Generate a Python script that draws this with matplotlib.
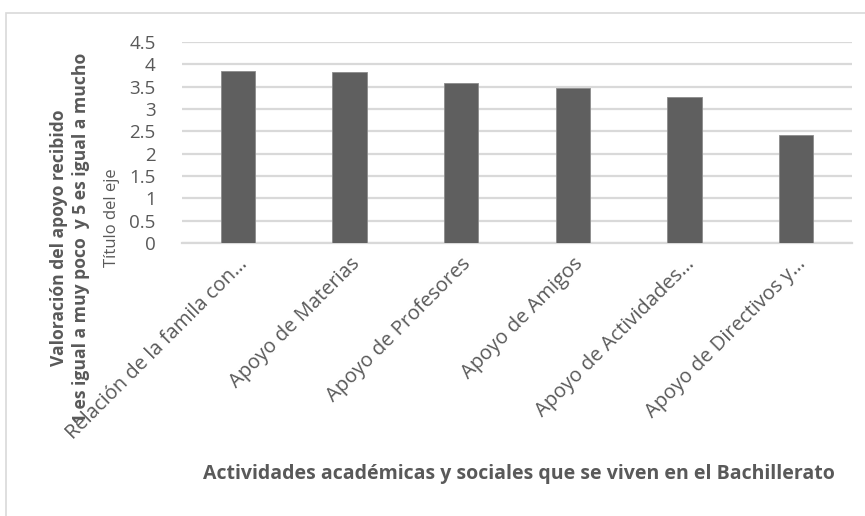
import matplotlib.pyplot as plt
from matplotlib.patches import Rectangle

categories = ['Relación de la famila con…', 'Apoyo de Materias', 'Apoyo de Profesores',
              'Apoyo de Amigos', 'Apoyo de Actividades…', 'Apoyo de Directivos y…']
values = [3.85, 3.83, 3.59, 3.48, 3.26, 2.41]
y_ticks = [0, 0.5, 1, 1.5, 2, 2.5, 3, 3.5, 4, 4.5]
y_tick_labels = ['0', '0.5', '1', '1.5', '2', '2.5', '3', '3.5', '4', '4.5']

plt.rcParams['font.family'] = ['Open Sans', 'DejaVu Sans']
text_gray = '#595959'
grid_gray = '#d9d9d9'

fig = plt.figure(figsize=(8.65, 5.16), dpi=100)
ax = fig.add_axes([182 / 865, 1 - 243 / 516, 670 / 865, 201 / 516])

x = list(range(len(categories)))
ax.bar(x, values, width=0.31, color='#5f5f5f', edgecolor='#8c8c8c', linewidth=0.6, zorder=3)

ax.set_xlim(-0.5, len(categories) - 0.5)
ax.set_ylim(0, 4.5)
ax.set_yticks(y_ticks)
ax.set_yticklabels(y_tick_labels, fontsize=13.5, color=text_gray)
ax.yaxis.grid(True, color=grid_gray, linewidth=1.6, zorder=0)
ax.tick_params(axis='both', length=0)
ax.tick_params(axis='y', pad=19)
for side in ['top', 'right', 'left']:
    ax.spines[side].set_visible(False)
ax.spines['bottom'].set_color(grid_gray)
ax.spines['bottom'].set_linewidth(1.6)

# category labels rotated like the original
ax.set_xticks(x)
ax.set_xticklabels(categories, fontsize=14.5, color=text_gray, rotation=45,
                   ha='right', va='top', rotation_mode='anchor')
ax.tick_params(axis='x', pad=8)

# axis titles
fig.text(519 / 865, 1 - 474 / 516,
         'Actividades académicas y sociales que se viven en el Bachillerato',
         ha='center', va='center', fontsize=14, fontweight='bold', color=text_gray)
fig.text(70 / 865, 1 - 238 / 516,
         'Valoración del apoyo recibido\n1 es igual a muy poco  y 5 es igual a mucho',
         ha='center', va='center', rotation=90, fontsize=12.6, fontweight='bold',
         color=text_gray, multialignment='center', linespacing=1.3)
fig.text(112 / 865, 1 - 218 / 516, 'Título del eje', ha='center', va='center',
         rotation=90, fontsize=12, color=text_gray)

# chart frame
fig.patches.append(Rectangle((6 / 865, -0.05), 1.0, 1 - 13 / 516 + 0.05, transform=fig.transFigure,
                             fill=False, edgecolor=grid_gray, linewidth=1.2))

fig.savefig('out.png', dpi=100)
